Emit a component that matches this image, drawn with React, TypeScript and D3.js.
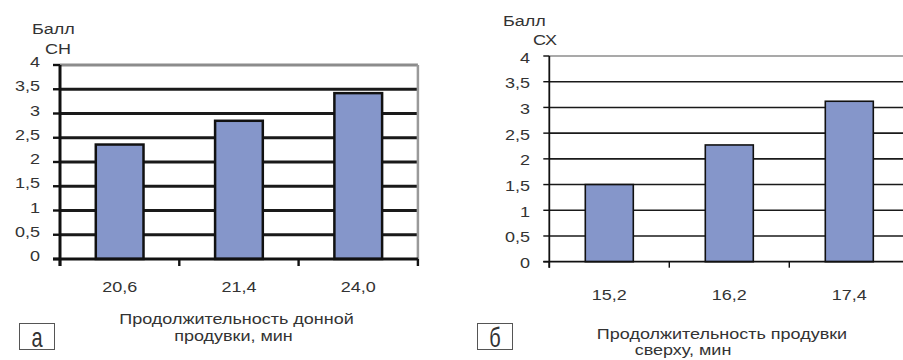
import React from "react";
import * as d3 from "d3";

// Panel "а": bottom blowing duration vs score
const bottomCategories = ["20,6", "21,4", "24,0"];
const bottomScores = [2.36, 2.85, 3.42];

// Panel "б": top blowing duration vs score
const topCategories = ["15,2", "16,2", "17,4"];
const topScores = [1.5, 2.27, 3.12];

const yTicks = [0, 0.5, 1, 1.5, 2, 2.5, 3, 3.5, 4];
const formatTick = (v: number) => String(v).replace(".", ",");

const FONT = "'Liberation Sans', Arial, sans-serif";
const TEXT = "#333";
const BAR = "#8596ca";

type WideProps = {
  x: number;
  y: number;
  anchor?: "start" | "middle" | "end";
  size?: number;
  sx?: number;
  sy?: number;
  children: React.ReactNode;
};

function WideText({ x, y, anchor = "start", size = 15, sx = 1.2, sy = 1, children }: WideProps) {
  return (
    <text
      transform={`translate(${x},${y}) scale(${sx},${sy})`}
      textAnchor={anchor}
      fontFamily={FONT}
      fontSize={size}
      fill={TEXT}
    >
      {children}
    </text>
  );
}

type PanelProps = {
  categories: string[];
  values: number[];
  left: number;
  bandWidth: number;
  top: number;
  bottom: number;
  gridWidth: number;
  axisWidth: number;
  barStroke: number;
  showRightBorder: boolean;
  labelRight: number;
  labelDy: number;
  tickLen: number;
  xLabelY: number;
};

function Panel(p: PanelProps) {
  const right = p.left + p.bandWidth * p.categories.length;
  const x = d3.scaleBand<string>().domain(p.categories).range([p.left, right]).paddingInner(0.6).paddingOuter(0.3);
  const band = d3.scaleBand<string>().domain(p.categories).range([p.left, right]);
  const y = d3.scaleLinear().domain([0, 4]).range([p.bottom, p.top]);
  const edges = [p.left, ...p.categories.map((c) => (band(c) as number) + band.bandwidth())];

  return (
    <g>
      {/* horizontal gridlines */}
      {yTicks.slice(1).map((t) => (
        <line
          key={t}
          x1={p.left}
          x2={right}
          y1={y(t)}
          y2={y(t)}
          stroke={t === 4 ? "#8c8c8c" : "#1a1a1a"}
          strokeWidth={p.gridWidth}
        />
      ))}
      {p.showRightBorder && (
        <line x1={right} x2={right} y1={y(4)} y2={y(0)} stroke="#9a9a9a" strokeWidth={2.5} />
      )}
      {/* bars */}
      {p.categories.map((c, i) => (
        <rect
          key={c}
          x={x(c)}
          y={y(p.values[i])}
          width={x.bandwidth()}
          height={y(0) - y(p.values[i])}
          fill={BAR}
          stroke="#111"
          strokeWidth={p.barStroke}
        />
      ))}
      {/* y axis */}
      <line x1={p.left} x2={p.left} y1={y(4)} y2={y(0) + p.tickLen} stroke="#111" strokeWidth={p.axisWidth} />
      {yTicks.map((t) => (
        <g key={t}>
          <line x1={p.left - p.tickLen} x2={p.left} y1={y(t)} y2={y(t)} stroke="#111" strokeWidth={p.axisWidth * 0.8} />
          <WideText x={p.labelRight} y={y(t) + p.labelDy} anchor="end">
            {formatTick(t)}
          </WideText>
        </g>
      ))}
      {/* x axis */}
      <line x1={p.left - p.tickLen} x2={right} y1={y(0)} y2={y(0)} stroke="#111" strokeWidth={p.axisWidth} />
      {edges.map((e, i) => (
        <line key={i} x1={e} x2={e} y1={y(0)} y2={y(0) + p.tickLen} stroke="#111" strokeWidth={p.axisWidth * 0.8} />
      ))}
      {p.categories.map((c) => (
        <WideText key={c} x={(band(c) as number) + band.bandwidth() / 2} y={p.xLabelY} anchor="middle">
          {c}
        </WideText>
      ))}
    </g>
  );
}

function Tag({ x, y, label }: { x: number; y: number; label: string }) {
  return (
    <g>
      <rect x={x} y={y} width={35} height={26} fill="#fff" stroke="#555" strokeWidth={1} />
      <WideText x={x + 17.5} y={y + 23} anchor="middle" size={20} sx={1.0} sy={1.35}>
        {label}
      </WideText>
    </g>
  );
}

export default function App() {
  return (
    <svg width={903} height={360} style={{ display: "block", position: "absolute", left: 0, top: 0, background: "#fff" }}>
      {/* panel а */}
      <WideText x={32} y={34}>Балл</WideText>
      <WideText x={45} y={54}>СН</WideText>
      <Panel
        categories={bottomCategories}
        values={bottomScores}
        left={60}
        bandWidth={119.3}
        top={65}
        bottom={259}
        gridWidth={2.8}
        axisWidth={3}
        barStroke={2.5}
        showRightBorder={true}
        labelRight={40}
        labelDy={2}
        tickLen={7}
        xLabelY={291.5}
      />
      <WideText x={236.5} y={323.5} anchor="middle">Продолжительность донной</WideText>
      <WideText x={233.5} y={340.5} anchor="middle">продувки, мин</WideText>
      <Tag x={19.5} y={323.5} label="а" />

      {/* panel б */}
      <WideText x={503} y={26}>Балл</WideText>
      <WideText x={533} y={45}>СХ</WideText>
      <Panel
        categories={topCategories}
        values={topScores}
        left={549.3}
        bandWidth={120}
        top={56}
        bottom={261.7}
        gridWidth={1.6}
        axisWidth={1.8}
        barStroke={1.6}
        showRightBorder={false}
        labelRight={530}
        labelDy={6.5}
        tickLen={6}
        xLabelY={300}
      />
      <WideText x={722} y={338.5} anchor="middle">Продолжительность продувки</WideText>
      <WideText x={683} y={355} anchor="middle">сверху, мин</WideText>
      <Tag x={477.5} y={323.5} label="б" />
    </svg>
  );
}
